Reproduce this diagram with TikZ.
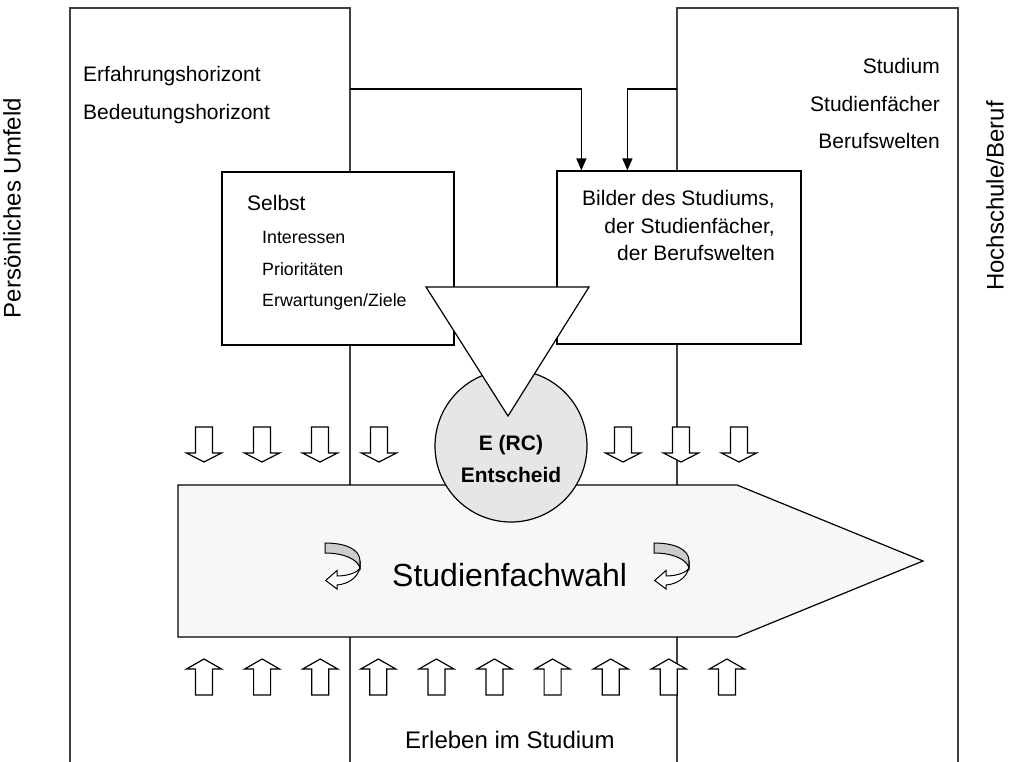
\documentclass[tikz,border=0pt]{standalone}
\usepackage{fontspec}
\setmainfont{Liberation Sans}
\usetikzlibrary{arrows.meta,calc}
\definecolor{bigfill}{HTML}{F7F7F7}
\definecolor{circfill}{HTML}{E6E6E6}
\definecolor{ribbon}{HTML}{CCCCCC}
\definecolor{frame}{HTML}{404040}
\tikzset{
  frameline/.style={draw=frame, line width=1.5pt},
  boxline/.style={draw=black, line width=1.2pt},
  boxstyle/.style={rectangle, draw=black, line width=1.2pt, fill=white, inner sep=0pt},
  conn/.style={draw=black, line width=1.4pt, -{Triangle[length=12pt,width=10pt]}},
  txt/.style={inner sep=0pt, font=\fontsize{21}{25}\selectfont},
  smalltxt/.style={inner sep=0pt, font=\fontsize{17.8}{20}\selectfont},
  sidetxt/.style={inner sep=0pt, rotate=90, font=\fontsize{24}{28}\selectfont},
  downarr/.pic={\draw[line width=1.2pt, fill=white, line join=miter]
     (-8.5,0) -- (8.5,0) -- (8.5,26) -- (17.5,26) -- (0,35) -- (-17.5,26) -- (-8.5,26) -- cycle;},
  uparr/.pic={\draw[line width=1.2pt, fill=white, line join=miter]
     (-8.5,36) -- (8.5,36) -- (8.5,10) -- (17.5,10) -- (0,0) -- (-17.5,10) -- (-8.5,10) -- cycle;},
  curlarr/.pic={
     \draw[line width=1pt, fill=ribbon] (0,0) .. controls (20,0) and (35,6) .. (35,18) -- (35,25)
        .. controls (33,17) and (20,10) .. (0,10) -- cycle;
     \draw[line width=1pt, fill=white] (35,18) .. controls (37,32) and (25,41) .. (12,42) -- (12,46)
        -- (0.7,37.5) -- (12,27.5) -- (12,33) .. controls (22,33) and (32,30) .. (35,25) -- cycle;}
}
\begin{document}
\begin{tikzpicture}[x=1pt,y=-1pt]
\useasboundingbox (0,0) rectangle (1010,762);
% large frames
\draw[frameline] (70,762) -- (70,8) -- (350,8) -- (350,762);
\draw[frameline] (677,762) -- (677,8) -- (958,8) -- (958,762);
\coordinate (lsrc) at (350,89);
\coordinate (rsrc) at (677,89);
% boxes
\node[boxstyle, minimum width=232pt, minimum height=173pt] (sb) at (338,258.5) {};
\node[boxstyle, minimum width=244pt, minimum height=173pt] (rb) at (679,257.5) {};
% connectors
\draw[conn] (lsrc) -| ($(rb.north west)+(25,0)$);
\draw[conn] (rsrc) -| ($(rb.north west)+(71,0)$);
% main arrow
\draw[boxline, fill=bigfill, line join=miter] (178,485) -- (737,485) -- (923,561) -- (737,637) -- (178,637) -- cycle;
% decision circle
\node[circle, draw=black, line width=1.2pt, fill=circfill, minimum size=152pt, inner sep=0pt] (ec) at (511,446) {};
% funnel triangle
\draw[boxline, fill=white, line join=miter] (426,287) -- (589,287) -- (508,416) -- cycle;
% block arrows
\foreach \x in {204,262,320,379,623,681,739} { \pic at (\x,427) {downarr}; }
\foreach \k in {0,...,9} { \pic at ({204+58.1*\k},659) {uparr}; }
% curl arrows
\pic at (325,543) {curlarr};
\pic at (654,543) {curlarr};
% texts
\node[txt, anchor=base west] (t1) at (83,82) {Erfahrungshorizont};
\node[txt, anchor=base west] (t2) at (83,120) {Bedeutungshorizont};
\node[txt, anchor=base east] (t3) at (940,74) {Studium};
\node[txt, anchor=base east] (t4) at (940,112) {Studienfächer};
\node[txt, anchor=base east] (t5) at (940,149) {Berufswelten};
\node[txt, anchor=base west] (s0) at (247,211) {Selbst};
\node[smalltxt, anchor=base west] (s1) at (262,244) {Interessen};
\node[smalltxt, anchor=base west] (s2) at (262,276) {Prioritäten};
\node[smalltxt, anchor=base west] (s3) at (262,307) {Erwartungen/Ziele};
\node[txt, anchor=base east] (r1) at (775,206) {Bilder des Studiums,};
\node[txt, anchor=base east] (r2) at (775,233.5) {der Studienfächer,};
\node[txt, anchor=base east] (r3) at (775,261) {der Berufswelten};
\node[txt, anchor=base, font=\fontsize{21}{25}\selectfont\bfseries] (e1) at (511,450) {E (RC)};
\node[txt, anchor=base, font=\fontsize{21}{25}\selectfont\bfseries] (e2) at (511,482) {Entscheid};
\node[inner sep=0pt, anchor=base west, font=\fontsize{32}{38}\selectfont] (sw) at (392,586) {Studienfachwahl};
\node[inner sep=0pt, anchor=base west, font=\fontsize{24}{28}\selectfont] (er) at (405,748) {Erleben im Studium};
\node[sidetxt] (pu) at (12,208) {Persönliches Umfeld};
\node[sidetxt] (hb) at (995,196) {Hochschule/Beruf};
\end{tikzpicture}
\end{document}
